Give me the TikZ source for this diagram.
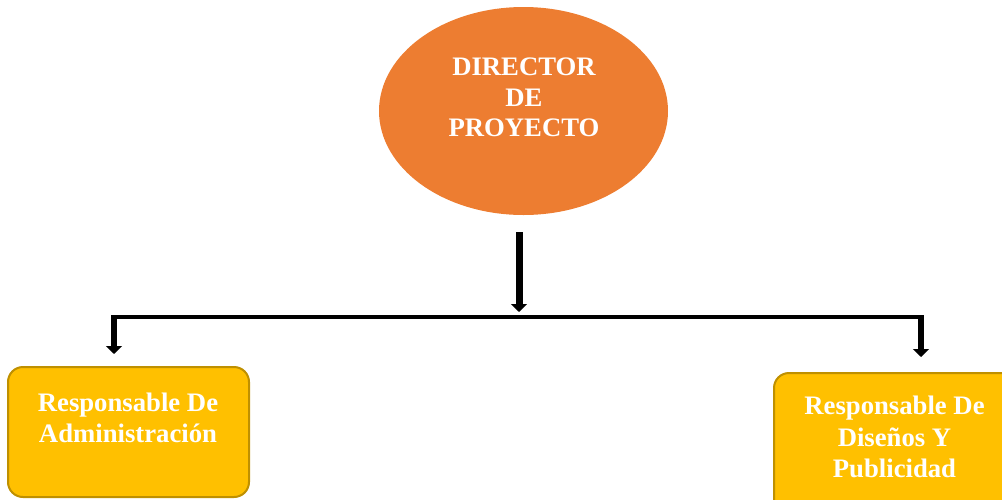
\documentclass[tikz,border=0pt]{standalone}
\usepackage{fontspec}
\setmainfont{Liberation Serif}
\usetikzlibrary{shapes.geometric,arrows.meta}
\definecolor{dirorange}{HTML}{ED7D31}
\definecolor{boxgold}{HTML}{FFC000}
\definecolor{boxedge}{HTML}{BF9000}
\tikzset{
  lbl/.style={text=white, font=\fontsize{26.7}{31}\selectfont\bfseries, align=center, inner sep=0pt},
  gbox/.style={rectangle, rounded corners=15pt, fill=boxgold, draw=boxedge, line width=2pt, inner sep=0pt},
  arr/.style={line width=#1, -{Triangle[length=8pt,width=16pt]}},
  barline/.style={line width=4pt}
}
\begin{document}
\begin{tikzpicture}[x=1pt,y=-1pt]
\useasboundingbox (0,0) rectangle (1002,499);
\clip (0,0) rectangle (1002,499);
% director
\node[ellipse, fill=dirorange, minimum width=289pt, minimum height=208pt, inner sep=0pt] (dir) at (523.5,111) {};
\node[lbl, font=\fontsize{26.7}{30.5}\selectfont\bfseries] (dirtxt) at (524,97.5) {DIRECTOR\\DE\\PROYECTO};
% boxes
\node[gbox, minimum width=241pt, minimum height=130pt] (adm) at (128.5,432) {};
\node[lbl] (admtxt) at (128,418.3) {Responsable De\\Administración};
\node[gbox, minimum width=250pt, minimum height=140pt] (dis) at (899,443) {};
\node[lbl, font=\fontsize{26.7}{31.5}\selectfont\bfseries] (distxt) at (894.5,437) {Responsable De\\Diseños Y\\Publicidad};
% connectors
\coordinate (a0) at (519,232);
\coordinate (jM) at (519,317);
\coordinate (jL) at (114,317);
\coordinate (jR) at (921,317);
\draw[barline] ([xshift=-3pt]jL) -- ([xshift=3pt]jR);
\draw[arr=7pt, shorten >=5pt] (a0) -- (jM);
\draw[arr=6pt, shorten >=12pt] ([yshift=2pt]jL) -- (jL |- adm.north);
\draw[arr=6pt, shorten >=15pt] ([yshift=2pt]jR) -- (jR |- dis.north);
\end{tikzpicture}
\end{document}
